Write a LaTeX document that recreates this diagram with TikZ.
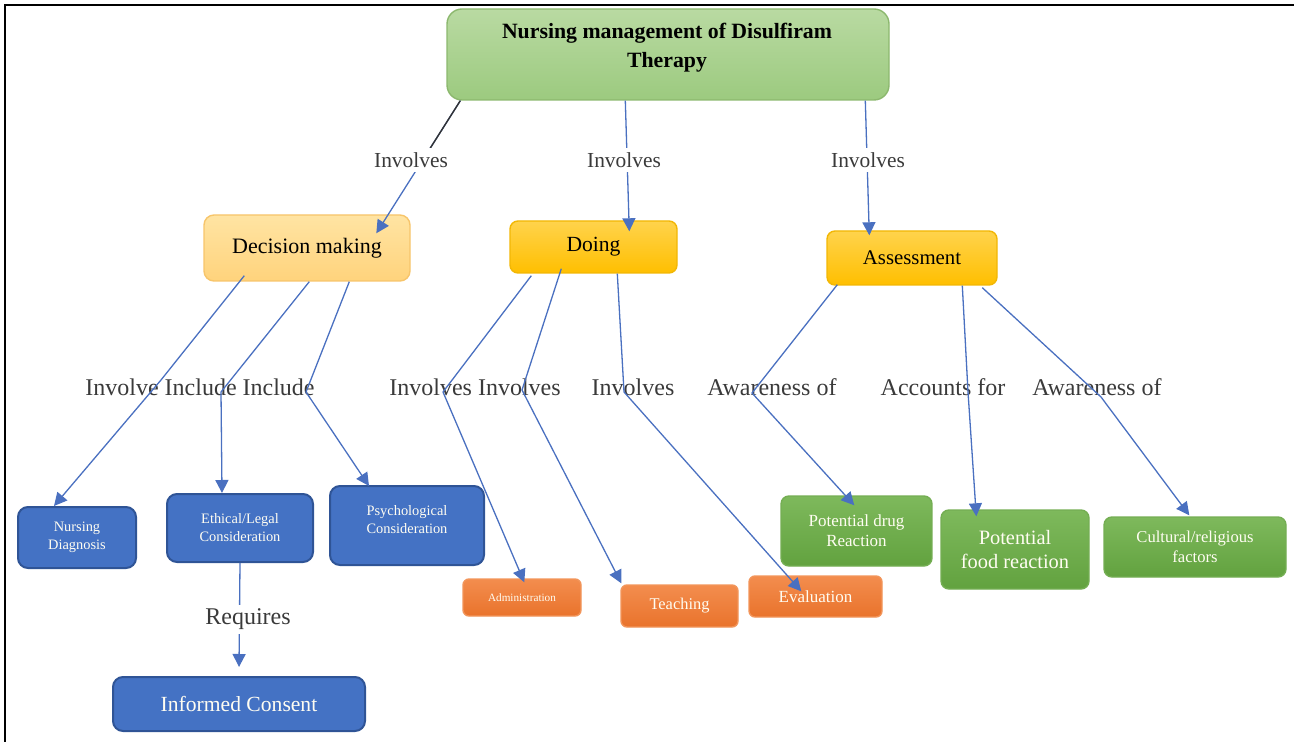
\documentclass[tikz,border=0pt]{standalone}
\usepackage{fontspec}
\setmainfont{Liberation Serif}
\usetikzlibrary{arrows.meta,calc}

\definecolor{linkblue}{HTML}{4A70C0}
\definecolor{linkdark}{HTML}{333333}
\definecolor{labelgray}{HTML}{3A3A3A}
\definecolor{titletop}{HTML}{B9DAA2}
\definecolor{titlebot}{HTML}{9CCA7F}
\definecolor{titledraw}{HTML}{8CB86E}
\definecolor{paletop}{HTML}{FFE4A3}
\definecolor{palebot}{HTML}{FFD37C}
\definecolor{paledraw}{HTML}{F7C56B}
\definecolor{goldtop}{HTML}{FFD34C}
\definecolor{goldbot}{HTML}{FFBF00}
\definecolor{golddraw}{HTML}{F2B705}
\definecolor{bluefill}{HTML}{4472C4}
\definecolor{bluedraw}{HTML}{2F5496}
\definecolor{orangetop}{HTML}{F38D4E}
\definecolor{orangebot}{HTML}{E9732C}
\definecolor{orangedraw}{HTML}{F2955A}
\definecolor{greentop}{HTML}{7EB95C}
\definecolor{greenbot}{HTML}{62A23F}
\definecolor{greendraw}{HTML}{74AE53}
\definecolor{cream}{HTML}{FFFDF2}

\begin{document}
\begin{tikzpicture}[x=0.5pt,y=-0.5pt,
  box/.style={inner sep=0pt, align=center, line width=0.7pt},
  topbox/.style={box, rounded corners=7.5pt, top color=titletop, bottom color=titlebot, draw=titledraw},
  palebox/.style={box, rounded corners=5pt, top color=paletop, bottom color=palebot, draw=paledraw, text=black},
  goldbox/.style={box, rounded corners=4pt, top color=goldtop, bottom color=goldbot, draw=golddraw, text=black},
  bluebox/.style={box, rounded corners=5pt, fill=bluefill, draw=bluedraw, line width=1pt, text=cream},
  orangebox/.style={box, rounded corners=3pt, top color=orangetop, bottom color=orangebot, draw=orangedraw, text=cream},
  greenbox/.style={box, rounded corners=4pt, top color=greentop, bottom color=greenbot, draw=greendraw, text=cream},
  link/.style={draw=linkblue, line width=0.65pt, -{Triangle[length=6.5pt,width=6.5pt]}},
  darklink/.style={draw=linkdark, line width=0.7pt},
  toplabel/.style={font=\fontsize{10.7}{12}\selectfont, text=labelgray, fill=white, inner sep=2pt},
  midlabel/.style={font=\fontsize{12}{14}\selectfont, text=labelgray, inner sep=1pt},
]
\useasboundingbox (0,0) rectangle (1294,742);

% page frame (top and left edges)
\draw[line width=1pt] (5,742) -- (5,5) -- (1294,5);

% ---------- boxes ----------
\node[topbox, minimum width=221pt, minimum height=45.5pt] (top) at (668,54.5) {};
\node[font=\bfseries\fontsize{10.9}{14.5}\selectfont, align=center, text=black, inner sep=0pt]
  (toptext) at (667,48) {Nursing management of Disulfiram\\Therapy};

\node[palebox, minimum width=103pt, minimum height=33pt, font=\fontsize{11}{13}\selectfont]
  (dm) at (307,248) {Decision making};
\node[goldbox, minimum width=83.5pt, minimum height=26pt, font=\fontsize{10.8}{13}\selectfont]
  (doing) at (593.5,247) {Doing};
\node[goldbox, minimum width=85pt, minimum height=27pt, font=\fontsize{10.4}{13}\selectfont]
  (assess) at (912,258) {Assessment};

\node[bluebox, minimum width=59pt, minimum height=30.5pt, font=\fontsize{7.2}{9}\selectfont]
  (nd) at (77,537.5) {Nursing\\Diagnosis};
\node[bluebox, minimum width=73pt, minimum height=34pt, font=\fontsize{7.2}{9}\selectfont]
  (eth) at (240,528) {Ethical/Legal\\Consideration};
\node[bluebox, minimum width=77pt, minimum height=39.5pt] (psy) at (407,525.5) {};
\node[font=\fontsize{7.2}{9}\selectfont, align=center, text=cream, inner sep=0pt]
  (psytext) at (407,519.5) {Psychological\\Consideration};
\node[bluebox, minimum width=126pt, minimum height=27pt, font=\fontsize{10.8}{13}\selectfont]
  (ic) at (239,704) {Informed Consent};

\node[orangebox, minimum width=59pt, minimum height=18.5pt, font=\fontsize{5.6}{7}\selectfont]
  (adm) at (522,597.5) {Administration};
\node[orangebox, minimum width=58.5pt, minimum height=21pt, font=\fontsize{8.2}{10}\selectfont]
  (teach) at (679.5,606) {Teaching};
\node[orangebox, minimum width=66.5pt, minimum height=20.5pt, font=\fontsize{8.5}{10}\selectfont]
  (eval) at (815.5,596.5) {Evaluation};

\node[greenbox, minimum width=75.5pt, minimum height=35pt, font=\fontsize{8.5}{10}\selectfont]
  (pdr) at (856.5,531) {Potential drug\\Reaction};
\node[greenbox, minimum width=74pt, minimum height=39.5pt, font=\fontsize{10.2}{12}\selectfont]
  (food) at (1015,549.5) {Potential\\food reaction};
\node[greenbox, minimum width=91pt, minimum height=30pt, font=\fontsize{8.3}{10}\selectfont]
  (cult) at (1195,547) {Cultural/religious\\factors};

% ---------- link phrases in the middle row ----------
\node[midlabel] (lab1) at (200,387) {Involve Include Include};
\node[midlabel] (lab2) at (475,387) {Involves Involves};
\node[midlabel] (lab3) at (633,387) {Involves};
\node[midlabel] (lab4) at (772,387) {Awareness of};
\node[midlabel] (lab5) at (943,387) {Accounts for};
\node[midlabel] (lab6) at (1097,387) {Awareness of};

% bend points of the links through the phrases
\coordinate (c1) at (161,380);
\coordinate (c2) at (221,392);
\coordinate (c3) at (306,392);
\coordinate (c4) at (443,392);
\coordinate (c5) at (522,390);
\coordinate (c6) at (624,392);
\coordinate (c7) at (752,393);
\coordinate (c8) at (968,392);
\coordinate (c9) at (1101,397);

% ---------- connectors from the title ----------
\coordinate (s1) at ($(top.south west)+(14,0)$);
\coordinate (t1) at ($(dm.north west)+(173,19)$);
\draw[link] (s1) -- (t1);
\draw[darklink] (s1) -- ($(s1)!0.36!(t1)$);
\draw[link] ($(top.south west)+(179,0)$) -- ($(doing.north west)+(120,11)$);
\draw[link] ($(top.south west)+(419,0)$) -- ($(assess.north west)+(43,5)$);

% ---------- connectors from Decision making ----------
\draw[link] ($(dm.south west)+(41,-6)$) -- (c1) -- ($(nd.north west)+(37,0)$);
\draw[link] ($(dm.south west)+(106,0)$) -- (c2) -- ($(eth.north west)+(56,0)$);
\draw[link] ($(dm.south west)+(146,0)$) -- (c3) -- ($(psy.north west)+(40,1)$);

% ---------- connectors from Doing ----------
\draw[link] ($(doing.south west)+(22,2)$) -- (c4) -- ($(adm.north west)+(62,4)$);
\draw[link] ($(doing.south west)+(52,-5)$) -- (c5) -- ($(teach.north west)+(1,-1)$);
\draw[link] ($(doing.south west)+(108,0)$) -- (c6) -- ($(eval.north west)+(53,16)$);

% ---------- connectors from Assessment ----------
\draw[link] ($(assess.south west)+(11,-1)$) -- (c7) -- ($(pdr.north west)+(74,10)$);
\draw[link] ($(assess.south west)+(136,0)$) -- (c8) -- ($(food.north west)+(36,7)$);
\draw[link] ($(assess.south west)+(156,2)$) -- (c9) -- ($(cult.north west)+(86,-1)$);

% ---------- Ethical/Legal to Informed Consent ----------
\draw[link] (eth.south) -- ($(ic.north)+(0,-9)$);

% ---------- link phrases that interrupt their lines ----------
\node[toplabel] (inv1) at (411,160) {Involves};
\node[toplabel] (inv2) at (624,160) {Involves};
\node[toplabel] (inv3) at (868,160) {Involves};
\node[midlabel, fill=white, inner sep=2pt] (req) at (248,619) {Requires};
\end{tikzpicture}
\end{document}
